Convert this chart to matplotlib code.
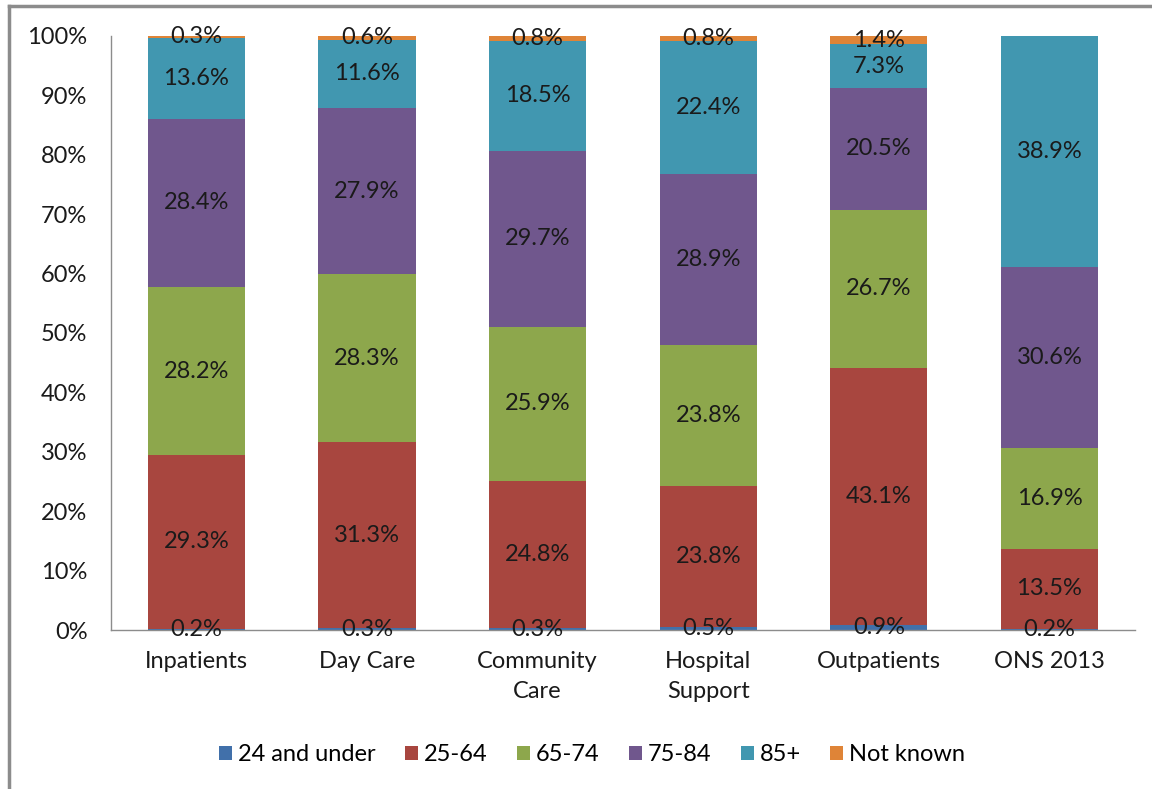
import matplotlib
matplotlib.use("Agg")
import matplotlib.pyplot as plt
import matplotlib.ticker as mticker
from matplotlib.lines import Line2D
import numpy as np

# ── data ────────────────────────────────────────────────────────────────────
categories = ["Inpatients", "Day Care", "Community\nCare", "Hospital\nSupport",
              "Outpatients", "ONS 2013"]
age_groups = ["24 and under", "25-64", "65-74", "75-84", "85+", "Not known"]

under_24  = [0.2, 0.3, 0.3, 0.5, 0.9, 0.2]
age_25_64 = [29.3, 31.3, 24.8, 23.8, 43.1, 13.5]
age_65_74 = [28.2, 28.3, 25.9, 23.8, 26.7, 16.9]
age_75_84 = [28.4, 27.9, 29.7, 28.9, 20.5, 30.6]
age_85p   = [13.6, 11.6, 18.5, 22.4, 7.3, 38.9]
not_known = [0.3, 0.6, 0.8, 0.8, 1.4, 0.0]

colors = ["#4170AA", "#A8463F", "#8DA74C", "#70578D", "#4197B0", "#DF8437"]
INK = "#1A1A1A"
GREY = "#8C8C8C"
FS = 17

plt.rcParams["font.family"] = ["Lato", "DejaVu Sans"]

series = np.array([under_24, age_25_64, age_65_74, age_75_84, age_85p, not_known])
shares = series / series.sum(axis=0) * 100   # 100 % stacked

fig = plt.figure(figsize=(11.52, 7.89), dpi=100, facecolor="white")
ax = fig.add_axes([0.0964, 0.2015, 0.8886, 0.7529])

x = np.arange(len(categories))
bottom = np.zeros(len(categories))
for i, (name, col) in enumerate(zip(age_groups, colors)):
    ax.bar(x, shares[i], 0.57, bottom=bottom, color=col, label=name, zorder=2)
    for j in range(len(categories)):
        if series[i, j] > 0:
            ax.text(x[j], bottom[j] + shares[i, j] / 2, f"{series[i, j]:.1f}%",
                    ha="center", va="center", fontsize=FS, color=INK, zorder=3)
    bottom += shares[i]

ax.set_xlim(-0.5, len(categories) - 0.5)
ax.set_ylim(0, 100)
ax.yaxis.set_major_locator(mticker.MultipleLocator(10))
ax.yaxis.set_major_formatter(mticker.FuncFormatter(lambda v, _: f"{v:.0f}%"))
ax.set_xticks(x)
ax.set_xticklabels(categories, linespacing=1.55)
ax.tick_params(axis="both", length=0, labelsize=FS, colors=INK)
ax.tick_params(axis="y", pad=17)
ax.tick_params(axis="x", pad=15)
for s in ("top", "right"):
    ax.spines[s].set_visible(False)
for s in ("left", "bottom"):
    ax.spines[s].set_color(GREY)
    ax.spines[s].set_linewidth(1.0)

ax.legend(loc="center", bbox_to_anchor=(0.47, -0.21), ncol=6, frameon=False,
          fontsize=FS, handlelength=0.55, handleheight=0.55, handletextpad=0.25,
          columnspacing=1.25)

# chart-area border (only top and left edges visible)
fig.add_artist(Line2D([9 / 1152, 1.0], [1 - 6 / 789, 1 - 6 / 789],
                      color=GREY, lw=2.5, transform=fig.transFigure))
fig.add_artist(Line2D([9 / 1152, 9 / 1152], [0.0, 1 - 6 / 789],
                      color=GREY, lw=2.5, transform=fig.transFigure))

fig.savefig("out.png", dpi=100, facecolor="white")
